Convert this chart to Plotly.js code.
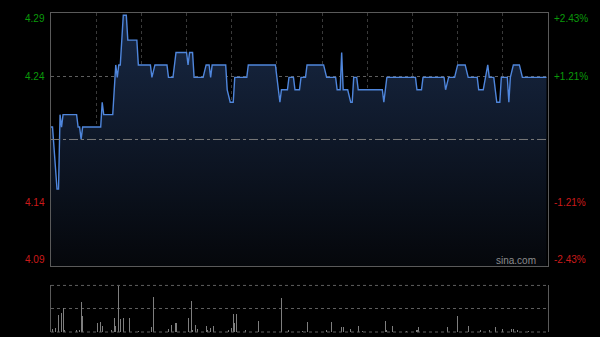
<!DOCTYPE html>
<html>
<head>
<meta charset="utf-8">
<script src="https://cdn.plot.ly/plotly-3.0.1.min.js"></script>
<style>
html,body{margin:0;padding:0;background:#000;}
#chart{width:600px;height:337px;}
</style>
</head>
<body>
<div id="chart"></div>
<script>
// Intraday data: minutes after 09:30 (HK session, lunch break removed, 330 minutes total)
var minutes = [0,1,4,5,6,7,8,17,18,19,20,21,33,34,35,41,43,44,45,46,48,50,51,57,58,66,67,69,77,78,81,83,90,91,92,94,95,101,103,105,106,107,116,117,119,121,122,130,131,149,150,152,153,157,158,161,162,165,166,169,170,181,183,189,190,192,193,194,197,199,200,201,203,204,220,221,223,242,243,246,247,261,262,264,268,270,275,277,283,284,287,290,291,294,296,298,299,303,304,305,307,311,313,329];
var prices = [4.20,4.20,4.15,4.15,4.21,4.20,4.21,4.21,4.20,4.20,4.19,4.20,4.20,4.22,4.21,4.21,4.25,4.24,4.25,4.25,4.29,4.29,4.27,4.27,4.25,4.25,4.24,4.25,4.25,4.24,4.24,4.26,4.26,4.25,4.26,4.26,4.24,4.24,4.25,4.25,4.24,4.25,4.25,4.23,4.22,4.22,4.24,4.24,4.25,4.25,4.24,4.22,4.23,4.23,4.24,4.24,4.23,4.23,4.24,4.24,4.25,4.25,4.24,4.24,4.23,4.23,4.26,4.23,4.23,4.22,4.22,4.24,4.24,4.23,4.23,4.22,4.24,4.24,4.23,4.23,4.24,4.24,4.23,4.24,4.24,4.25,4.25,4.24,4.24,4.23,4.23,4.25,4.24,4.24,4.22,4.22,4.24,4.24,4.22,4.24,4.25,4.25,4.24,4.24];

var volMinutes = [1,3,5,7,8,9,17,19,20,21,31,33,34,40,42,43,45,46,48,52,58,67,68,78,80,83,91,93,94,96,97,103,104,106,108,118,120,121,122,123,129,138,153,158,167,170,183,186,193,194,199,204,207,222,223,227,236,243,244,263,270,277,285,291,295,300,306,307,310,317];
var volumes = [35,40,185,200,255,25,20,25,325,175,95,110,60,25,150,65,500,135,150,145,15,50,380,35,75,95,150,335,25,70,35,60,25,45,65,20,40,190,100,190,25,115,365,25,15,105,20,105,55,55,30,65,15,115,25,65,15,20,55,50,175,60,20,20,50,30,30,35,20,15];

var prevClose = 4.19;
var pctLevels = [0.0243, 0.0121, -0.0121, -0.0243];
var pctLabels = ['+2.43%', '+1.21%', '-1.21%', '-2.43%'];
var priceLabels = ['4.29', '4.24', '4.14', '4.09'];

var UP = '#0a9a0a', DOWN = '#cc1a1a';
var yLo = prevClose * (1 - 0.0243), yHi = prevClose * (1 + 0.0243);
var volMax = Math.max.apply(null, volumes);

var traces = [
  {
    x: minutes, y: prices, type: 'scatter', mode: 'lines',
    line: {color: '#4f86dc', width: 1.4},
    fill: 'tozeroy',
    fillgradient: {type: 'vertical', start: yLo, stop: 4.27,
      colorscale: [[0, '#05070b'], [1, '#16253f']]},
    xaxis: 'x', yaxis: 'y', hoverinfo: 'skip'
  },
  {
    x: volMinutes, y: volumes, type: 'bar', width: 0.7,
    marker: {color: '#7e7e7e', line: {width: 0}},
    xaxis: 'x2', yaxis: 'y2', hoverinfo: 'skip'
  }
];

var annotations = [];
pctLevels.forEach(function (p, i) {
  var yv = prevClose * (1 + p);
  var shift = i === 0 ? -5 : (i === 3 ? 6 : 0);
  var col = p > 0 ? UP : DOWN;
  annotations.push({xref: 'paper', yref: 'y', x: 0, y: yv, xanchor: 'right', xshift: -4, yshift: shift,
    text: priceLabels[i], showarrow: false, font: {family: 'Liberation Sans, Arial', size: 10, color: col}});
  annotations.push({xref: 'paper', yref: 'y', x: 1, y: yv, xanchor: 'left', xshift: 4, yshift: shift,
    text: pctLabels[i], showarrow: false, font: {family: 'Liberation Sans, Arial', size: 10, color: col}});
});
annotations.push({xref: 'paper', yref: 'y', x: 1, y: yLo, xanchor: 'right', yanchor: 'bottom', xshift: -10, yshift: -2,
  text: 'sina.com', showarrow: false, font: {family: 'Liberation Sans, Arial', size: 10, color: '#8c8c8c'}});

var layout = {
  width: 600, height: 337,
  margin: {l: 51, r: 52, t: 13, b: 5},
  paper_bgcolor: '#000', plot_bgcolor: '#000',
  showlegend: false,
  xaxis: {domain: [0, 1], range: [0, 330], tick0: 0, dtick: 30, showticklabels: false, ticks: '',
    showgrid: true, gridcolor: '#3a3a3a', griddash: 'dot', gridwidth: 1,
    showline: true, mirror: true, linecolor: '#5a5a5a', linewidth: 1, zeroline: false, anchor: 'y'},
  yaxis: {domain: [0.207, 1], range: [yLo, yHi], tickvals: [prevClose * 1.0121, prevClose * 0.9879],
    showticklabels: false, ticks: '', showgrid: true, gridcolor: '#5e5e5e', griddash: 'dot',
    showline: true, mirror: true, linecolor: '#5a5a5a', linewidth: 1, zeroline: false, anchor: 'x'},
  xaxis2: {domain: [0, 1], range: [0, 330], showticklabels: false, ticks: '', showgrid: false,
    showline: false, zeroline: false, anchor: 'y2'},
  yaxis2: {domain: [0, 0.146], range: [0, volMax], tickvals: [0, volMax / 2, volMax], showticklabels: false, ticks: '',
    showgrid: true, gridcolor: '#5e5e5e', griddash: 'dot', showline: true, mirror: true,
    linecolor: '#5a5a5a', linewidth: 1, zeroline: false, anchor: 'x2'},
  shapes: [
    {type: 'line', xref: 'x domain', yref: 'y', x0: 0, x1: 1, y0: prevClose, y1: prevClose,
      line: {color: '#7a7a7a', width: 1, dash: 'dashdot'}},
    {type: 'line', xref: 'x2 domain', yref: 'y2 domain', x0: 0, x1: 1, y0: 1, y1: 1,
      line: {color: '#5e5e5e', width: 1, dash: 'dot'}},
    {type: 'line', xref: 'x2 domain', yref: 'y2 domain', x0: 0, x1: 1, y0: 0, y1: 0,
      line: {color: '#5e5e5e', width: 1, dash: 'dot'}}
  ],
  annotations: annotations,
  bargap: 0
};

Plotly.newPlot('chart', traces, layout, {staticPlot: true, displayModeBar: false});
</script>
</body>
</html>
